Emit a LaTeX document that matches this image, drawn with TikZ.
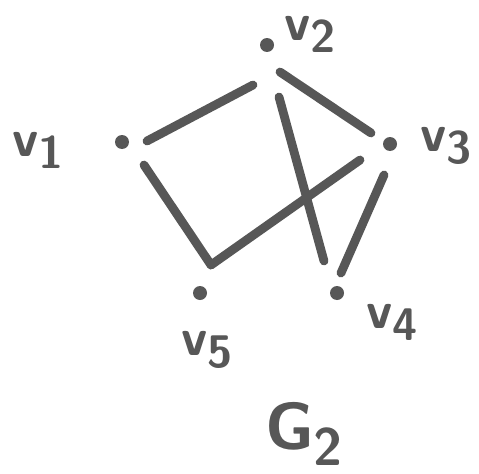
\documentclass[tikz,border=0pt]{standalone}
\usepackage{xcolor}
\definecolor{Ink}{HTML}{575757}
\usepackage{tikz}
\usetikzlibrary{positioning}
\tikzset{
  vtx/.style={circle, fill=Ink, inner sep=0pt, minimum size=0.28cm},
  edge/.style={line width=5pt, color=Ink, line cap=round, line join=round},
  lbl/.style={font=\sffamily\bfseries\fontsize{30}{30}\selectfont, text=Ink, inner sep=0pt},
}
\newcommand{\vsub}[1]{v\raisebox{-0.5ex}{\fontsize{26}{26}\selectfont #1}}

\begin{document}
\begin{tikzpicture}[x=0.02cm, y=-0.02cm]
\useasboundingbox (0,0) rectangle (479,473);

% Vertices
\node[vtx] (v1) at (122,142) {};
\node[vtx] (v2) at (267,45) {};
\node[vtx] (v3) at (390,144) {};
\node[vtx] (v4) at (337,293) {};
\node[vtx] (v5) at (200,293) {};
\coordinate (c5) at (211,265);

% Edges (hand drawn, so they stop short of the dots)
\draw[edge] ([shift={(25,-1)}]v1.center) -- ([shift={(-14,40)}]v2.center);
\draw[edge] ([shift={(13,27)}]v2.center) -- ([shift={(-19,-11)}]v3.center);
\draw[edge] ([shift={(12,52)}]v2.center) -- ([shift={(-13,-32)}]v4.center);
\draw[edge] ([shift={(-6,31)}]v3.center) -- ([shift={(4,-20)}]v4.center);
\draw[edge] ([shift={(-30,16)}]v3.center) -- (c5);
\draw[edge] ([shift={(22,23)}]v1.center) -- (c5);

% Labels
\node[lbl] (l1) at (38,150) {\vsub{1}};
\node[lbl] (l2) at (310,34) {\vsub{2}};
\node[lbl] (l3) at (446,146) {\vsub{3}};
\node[lbl] (l4) at (392,322) {\vsub{4}};
\node[lbl] (l5) at (207,350) {\vsub{5}};
\node[lbl, font=\sffamily\bfseries\fontsize{38}{38}\selectfont] (g) at (304,434) {G\raisebox{-0.5ex}{\fontsize{30}{30}\selectfont 2}};

\end{tikzpicture}
\end{document}
